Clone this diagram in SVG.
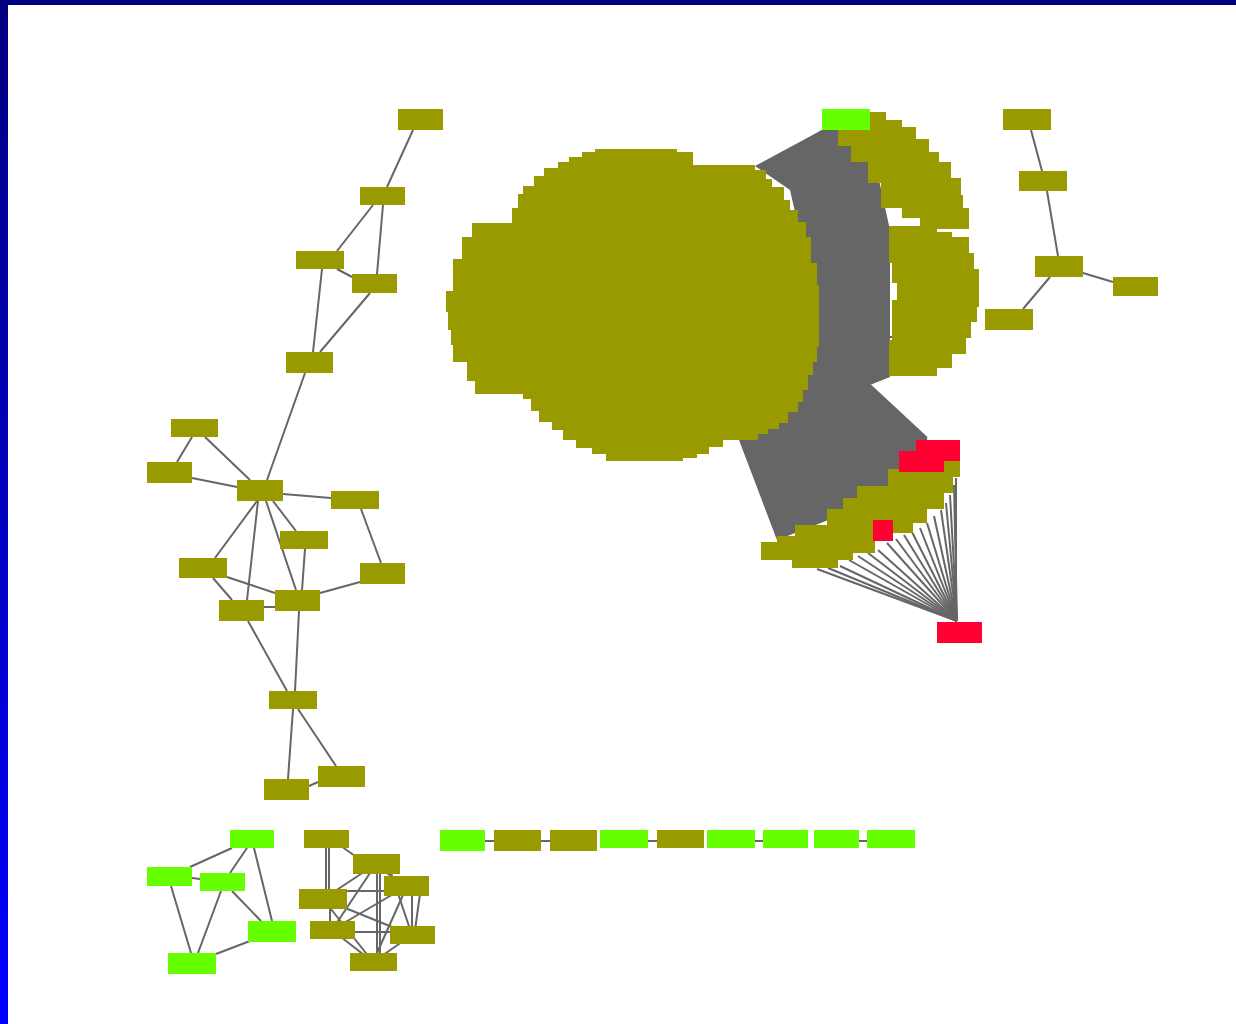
<svg xmlns="http://www.w3.org/2000/svg" width="1236" height="1024" viewBox="0 0 1236 1024">
<defs>
<linearGradient id="sideGrad" x1="0" y1="0" x2="0" y2="1">
<stop offset="0" stop-color="#000080"/>
<stop offset="1" stop-color="#0000ff"/>
</linearGradient>
<style>
.n{fill:#999900;}
.g{fill:#66ff00;}
.r{fill:#ff0033;}
.e line, .e polyline{stroke:#666666;stroke-width:2;fill:none;}
.bundle{fill:#666666;}
.blob{fill:#999900;}
</style>
</defs>
<rect x="0" y="0" width="1236" height="1024" fill="#ffffff"/>
<rect x="0" y="0" width="8" height="1024" fill="url(#sideGrad)"/>
<rect x="0" y="0" width="1236" height="5" fill="#000080"/>

<!-- dense bundle of connectors in the big cluster -->
<g id="bundle">
<polygon class="bundle" points="822,130 868,130 890,230 890,377 870,385 927,438 930,470 880,500 777,540 740,440 790,400 815,300 790,190 755,166"/>
</g>

<g id="connectors" class="e">
<!-- left tree -->
<line x1="413" y1="130" x2="387" y2="187"/>
<line x1="373" y1="205" x2="337" y2="251"/>
<line x1="383" y1="205" x2="377" y2="274"/>
<line x1="337" y1="269" x2="352" y2="277"/>
<line x1="322" y1="269" x2="313" y2="352"/>
<line x1="370" y1="293" x2="320" y2="352"/>
<line x1="305" y1="373" x2="267" y2="480"/>
<line x1="192" y1="437" x2="177" y2="462"/>
<line x1="205" y1="437" x2="250" y2="480"/>
<line x1="192" y1="478" x2="237" y2="487"/>
<line x1="283" y1="494" x2="331" y2="498"/>
<line x1="273" y1="501" x2="296" y2="531"/>
<line x1="257" y1="501" x2="215" y2="558"/>
<line x1="258" y1="501" x2="247" y2="600"/>
<line x1="266" y1="501" x2="296" y2="590"/>
<line x1="305" y1="549" x2="302" y2="590"/>
<line x1="361" y1="509" x2="381" y2="563"/>
<line x1="360" y1="582" x2="320" y2="593"/>
<line x1="227" y1="577" x2="275" y2="593"/>
<line x1="213" y1="578" x2="232" y2="600"/>
<line x1="264" y1="607" x2="275" y2="607"/>
<line x1="299" y1="611" x2="295" y2="691"/>
<line x1="248" y1="621" x2="287" y2="691"/>
<line x1="293" y1="709" x2="288" y2="779"/>
<line x1="298" y1="709" x2="336" y2="766"/>
<line x1="309" y1="786" x2="318" y2="782"/>
<!-- right tree -->
<line x1="1031" y1="130" x2="1042" y2="171"/>
<line x1="1047" y1="191" x2="1058" y2="256"/>
<line x1="1083" y1="273" x2="1113" y2="282"/>
<line x1="1050" y1="277" x2="1023" y2="309"/>
<!-- green cluster -->
<line x1="232" y1="848" x2="190" y2="867"/>
<line x1="247" y1="848" x2="230" y2="873"/>
<line x1="254" y1="848" x2="272" y2="921"/>
<line x1="192" y1="878" x2="200" y2="879"/>
<line x1="171" y1="886" x2="191" y2="953"/>
<line x1="221" y1="891" x2="198" y2="953"/>
<line x1="232" y1="891" x2="261" y2="921"/>
<line x1="250" y1="941" x2="216" y2="954"/>
<!-- olive cluster -->
<line x1="341" y1="846" x2="355" y2="856"/>
<line x1="326" y1="846" x2="326" y2="892"/>
<line x1="329" y1="846" x2="329" y2="892"/>
<line x1="330" y1="905" x2="330" y2="922"/>
<line x1="385" y1="872" x2="407" y2="886"/>
<line x1="376" y1="864" x2="323" y2="899"/>
<line x1="376" y1="864" x2="332" y2="930"/>
<line x1="377" y1="872" x2="377" y2="955"/>
<line x1="380" y1="872" x2="380" y2="955"/>
<line x1="390" y1="870" x2="412" y2="935"/>
<line x1="340" y1="891" x2="390" y2="891"/>
<line x1="407" y1="886" x2="332" y2="930"/>
<line x1="412" y1="894" x2="412" y2="930"/>
<line x1="407" y1="886" x2="373" y2="962"/>
<line x1="420" y1="894" x2="415" y2="930"/>
<line x1="323" y1="899" x2="412" y2="935"/>
<line x1="323" y1="899" x2="373" y2="962"/>
<line x1="350" y1="932" x2="395" y2="932"/>
<line x1="332" y1="930" x2="373" y2="962"/>
<line x1="412" y1="935" x2="373" y2="962"/>
<!-- bottom row -->
<line x1="485" y1="841" x2="494" y2="841"/>
<line x1="541" y1="841" x2="550" y2="841"/>
<line x1="648" y1="841" x2="657" y2="841"/>
<line x1="755" y1="841" x2="763" y2="841"/>
<line x1="859" y1="841" x2="867" y2="841"/>
<!-- bundle edge and stubs -->
<line x1="808" y1="312" x2="822" y2="312"/>
<line x1="889" y1="337" x2="906" y2="337"/>
<line x1="870" y1="385" x2="927" y2="438"/>
<line x1="740" y1="440" x2="777" y2="537"/>
<line x1="760" y1="166" x2="822" y2="131"/>
<!-- fan to bottom red node -->
<line x1="957" y1="621" x2="817" y2="569"/>
<line x1="957" y1="621" x2="828" y2="568"/>
<line x1="957" y1="621" x2="840" y2="566"/>
<line x1="957" y1="621" x2="849" y2="560"/>
<line x1="957" y1="621" x2="858" y2="556"/>
<line x1="957" y1="621" x2="868" y2="553"/>
<line x1="957" y1="621" x2="878" y2="550"/>
<line x1="957" y1="621" x2="887" y2="543"/>
<line x1="957" y1="621" x2="896" y2="539"/>
<line x1="957" y1="621" x2="904" y2="535"/>
<line x1="957" y1="621" x2="912" y2="532"/>
<line x1="957" y1="621" x2="920" y2="528"/>
<line x1="957" y1="621" x2="927" y2="523"/>
<line x1="957" y1="621" x2="934" y2="516"/>
<line x1="957" y1="621" x2="941" y2="510"/>
<line x1="957" y1="621" x2="946" y2="503"/>
<line x1="957" y1="621" x2="950" y2="495"/>
<line x1="957" y1="621" x2="954" y2="485"/>
<line x1="956" y1="621" x2="956" y2="478"/>
</g>

<!-- big overlapping cluster of nodes -->
<g id="cluster-main">
<path class="blob" d="M617,149 H677 V152 H693 V165 H755 V170 H766 V179 H772 V187 H784 V200 H790 V210 H798 V222 H806 V237 H811 V263 H817 V285 H819 V347 H817 V362 H813 V375 H808 V390 H803 V402 H798 V412 H788 V423 H779 V429 H768 V434 H758 V440 H723 V447 H709 V454 H697 V458 H683 V461 H606 V454 H592 V448 H576 V440 H563 V430 H552 V422 H539 V411 H531 V399 H523 V394 H475 V381 H467 V362 H453 V345 H451 V330 H448 V312 H446 V291 H453 V259 H462 V237 H472 V223 H512 V208 H518 V194 H523 V186 H534 V176 H544 V168 H558 V162 H569 V157 H582 V152 H595 V149 Z"/>
</g>
<g id="cluster-upper-right">
<path class="blob" d="M838,128 H868 V112 H886 V120 H902 V127 H916 V139 H929 V152 H939 V162 H951 V178 H961 V195 H963 V208 H969 V229 H920 V218 H902 V208 H881 V183 H868 V162 H851 V146 H838 Z"/>
</g>
<g id="cluster-lower-right">
<path class="blob" d="M889,226 H937 V232 H952 V237 H969 V253 H974 V269 H979 V307 H977 V322 H971 V338 H966 V354 H952 V368 H937 V376 H889 V340 H892 V300 H897 V283 H892 V263 H889 Z"/>
</g>
<g id="cluster-diagonal">
<path class="blob" d="M888,469 H944 V461 H960 V477 H953 V493 H944 V509 H927 V523 H913 V533 H893 V541 H875 V553 H853 V560 H838 V568 H792 V560 H761 V542 H777 V536 H795 V525 H827 V509 H843 V498 H857 V486 H888 Z"/>
</g>

<g id="node-top-green"><rect class="g" x="822" y="109" width="48" height="21"/></g>
<g id="node-red-1"><rect class="r" x="916" y="440" width="44" height="21"/></g>
<g id="node-red-2"><rect class="r" x="899" y="451" width="45" height="21"/></g>
<g id="node-red-3"><rect class="r" x="873" y="520" width="20" height="21"/></g>
<g id="node-red-4"><rect class="r" x="937" y="622" width="45" height="21"/></g>

<!-- left tree -->
<g id="node-A"><rect class="n" x="398" y="109" width="45" height="21"/></g>
<g id="node-B"><rect class="n" x="360" y="187" width="45" height="18"/></g>
<g id="node-C"><rect class="n" x="296" y="251" width="48" height="18"/></g>
<g id="node-D"><rect class="n" x="352" y="274" width="45" height="19"/></g>
<g id="node-E"><rect class="n" x="286" y="352" width="47" height="21"/></g>
<g id="node-F"><rect class="n" x="171" y="419" width="47" height="18"/></g>
<g id="node-G"><rect class="n" x="147" y="462" width="45" height="21"/></g>
<g id="node-H"><rect class="n" x="237" y="480" width="46" height="21"/></g>
<g id="node-I"><rect class="n" x="331" y="491" width="48" height="18"/></g>
<g id="node-J"><rect class="n" x="280" y="531" width="48" height="18"/></g>
<g id="node-K"><rect class="n" x="179" y="558" width="48" height="20"/></g>
<g id="node-L"><rect class="n" x="360" y="563" width="45" height="21"/></g>
<g id="node-M"><rect class="n" x="219" y="600" width="45" height="21"/></g>
<g id="node-N"><rect class="n" x="275" y="590" width="45" height="21"/></g>
<g id="node-O"><rect class="n" x="269" y="691" width="48" height="18"/></g>
<g id="node-P"><rect class="n" x="264" y="779" width="45" height="21"/></g>
<g id="node-Q"><rect class="n" x="318" y="766" width="47" height="21"/></g>

<!-- right tree -->
<g id="node-R1"><rect class="n" x="1003" y="109" width="48" height="21"/></g>
<g id="node-R2"><rect class="n" x="1019" y="171" width="48" height="20"/></g>
<g id="node-R3"><rect class="n" x="1035" y="256" width="48" height="21"/></g>
<g id="node-R4"><rect class="n" x="1113" y="277" width="45" height="19"/></g>
<g id="node-R5"><rect class="n" x="985" y="309" width="48" height="21"/></g>

<!-- green cluster -->
<g id="node-G1"><rect class="g" x="230" y="830" width="44" height="18"/></g>
<g id="node-G2"><rect class="g" x="147" y="867" width="45" height="19"/></g>
<g id="node-G3"><rect class="g" x="200" y="873" width="45" height="18"/></g>
<g id="node-G4"><rect class="g" x="248" y="921" width="48" height="21"/></g>
<g id="node-G5"><rect class="g" x="168" y="953" width="48" height="21"/></g>

<!-- olive cluster -->
<g id="node-O1"><rect class="n" x="304" y="830" width="45" height="18"/></g>
<g id="node-O2"><rect class="n" x="353" y="854" width="47" height="20"/></g>
<g id="node-O3"><rect class="n" x="384" y="876" width="45" height="20"/></g>
<g id="node-O4"><rect class="n" x="299" y="889" width="48" height="20"/></g>
<g id="node-O5"><rect class="n" x="310" y="921" width="45" height="18"/></g>
<g id="node-O6"><rect class="n" x="390" y="926" width="45" height="18"/></g>
<g id="node-O7"><rect class="n" x="350" y="953" width="47" height="18"/></g>

<!-- bottom row -->
<g id="node-S1"><rect class="g" x="440" y="830" width="45" height="21"/></g>
<g id="node-S2"><rect class="n" x="494" y="830" width="47" height="21"/></g>
<g id="node-S3"><rect class="n" x="550" y="830" width="47" height="21"/></g>
<g id="node-S4"><rect class="g" x="600" y="830" width="48" height="18"/></g>
<g id="node-S5"><rect class="n" x="657" y="830" width="47" height="18"/></g>
<g id="node-S6"><rect class="g" x="707" y="830" width="48" height="18"/></g>
<g id="node-S7"><rect class="g" x="763" y="830" width="45" height="18"/></g>
<g id="node-S8"><rect class="g" x="814" y="830" width="45" height="18"/></g>
<g id="node-S9"><rect class="g" x="867" y="830" width="48" height="18"/></g>
</svg>
